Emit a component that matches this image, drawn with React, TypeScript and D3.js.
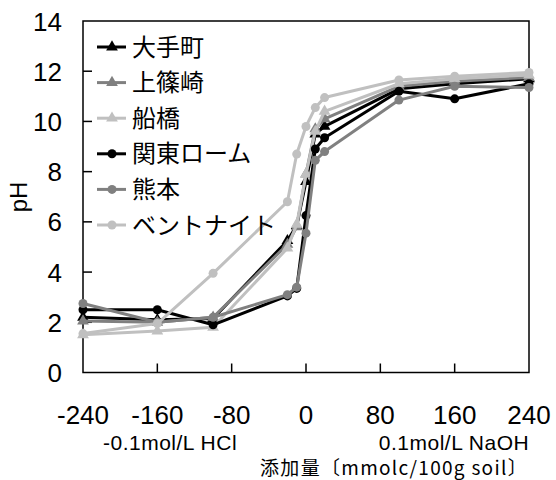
import React, { useEffect, useRef } from 'react';
import * as d3 from 'd3';

const xTicks = [-240, -160, -80, 0, 80, 160, 240];
const yTicks = [0, 2, 4, 6, 8, 10, 12, 14];
const xAdd = [-240, -160, -100, -20, -10, 0, 10, 20, 100, 160, 240];

const names = ['大手町', '上篠崎', '船橋', '関東ローム', '熊本', 'ベントナイト'];
const colors = ['#000000', '#808080', '#c0c0c0', '#000000', '#808080', '#c0c0c0'];
const shapes = ['triangle', 'triangle', 'triangle', 'circle', 'circle', 'circle'];

const otemachi = [2.2, 2.1, 2.15, 5.25, 5.85, 7.6, 9.5, 9.8, 11.3, 11.5, 11.7];
const kamishinozaki = [2.05, 2.0, 2.2, 5.1, 5.8, 7.9, 9.7, 10.1, 11.4, 11.6, 11.75];
const funabashi = [1.5, 1.65, 1.8, 4.95, 5.9, 7.9, 9.6, 10.4, 11.5, 11.7, 11.85];
const kantoLoam = [2.5, 2.5, 1.9, 3.05, 3.35, 6.25, 8.9, 9.35, 11.2, 10.9, 11.5];
const kumamoto = [2.75, 2.0, 2.2, 3.1, 3.4, 5.55, 8.45, 8.8, 10.85, 11.4, 11.35];
const bentonite = [1.55, 1.95, 3.95, 6.8, 8.7, 9.8, 10.55, 10.95, 11.65, 11.8, 11.95];

const seriesValues = [otemachi, kamishinozaki, funabashi, kantoLoam, kumamoto, bentonite];

const latin = 'Liberation Sans, Arial, Helvetica, sans-serif';
const cjk = 'Noto Sans CJK JP, sans-serif';

function TitrationChart() {
  const svgRef = useRef<SVGSVGElement>(null);

  useEffect(() => {
    const svg = d3.select(svgRef.current);
    svg.selectAll('*').remove();

    const margin = { top: 21, right: 27, bottom: 107.5, left: 83 };
    const width = 556;
    const height = 480;

    const x = d3.scaleLinear().domain([-240, 240]).range([margin.left, width - margin.right]);
    const y = d3.scaleLinear().domain([0, 14]).range([height - margin.bottom, margin.top]);

    const triangle = d3.symbol().type(d3.symbolTriangle).size(60);

    // frame
    svg.append('rect')
      .attr('x', x(-240)).attr('y', y(14))
      .attr('width', x(240) - x(-240)).attr('height', y(0) - y(14))
      .attr('fill', 'none').attr('stroke', '#000').attr('stroke-width', 1.5);

    // y ticks (inside)
    yTicks.filter(t => t > 0 && t < 14).forEach(t => {
      svg.append('line')
        .attr('x1', x(-240)).attr('x2', x(-240) + 9)
        .attr('y1', y(t)).attr('y2', y(t))
        .attr('stroke', '#000').attr('stroke-width', 1.5);
    });
    yTicks.forEach(t => {
      svg.append('text')
        .attr('x', 62).attr('y', y(t) + 9.5)
        .attr('text-anchor', 'end')
        .style('font-family', latin).style('font-size', '26px')
        .text(t);
    });

    // x ticks (inside)
    xTicks.filter(t => t > -240 && t < 240).forEach(t => {
      svg.append('line')
        .attr('x1', x(t)).attr('x2', x(t))
        .attr('y1', y(0)).attr('y2', y(0) - 9)
        .attr('stroke', '#000').attr('stroke-width', 1.5);
    });
    xTicks.forEach(t => {
      svg.append('text')
        .attr('x', x(t)).attr('y', 424)
        .attr('text-anchor', 'middle')
        .style('font-family', latin).style('font-size', '26px')
        .text(t);
    });

    // axis titles
    svg.append('text')
      .attr('transform', 'translate(27,197) rotate(-90)')
      .attr('text-anchor', 'middle')
      .style('font-family', latin).style('font-size', '24px')
      .text('pH');

    svg.append('text')
      .attr('x', 170).attr('y', 450)
      .attr('text-anchor', 'middle')
      .style('font-family', latin).style('font-size', '21px')
      .style('letter-spacing', '0.5px')
      .text('-0.1mol/L HCl');

    svg.append('text')
      .attr('x', 454).attr('y', 450)
      .attr('text-anchor', 'middle')
      .style('font-family', latin).style('font-size', '21px')
      .style('letter-spacing', '0.5px')
      .text('0.1mol/L NaOH');

    svg.append('text')
      .attr('x', 394).attr('y', 475)
      .attr('text-anchor', 'middle')
      .style('font-family', cjk).style('font-size', '19px')
      .style('letter-spacing', '1.3px')
      .text('添加量〔mmolc/100g soil〕');

    // series
    const line = d3.line<number>()
      .x((d, i) => x(xAdd[i]))
      .y(d => y(d));

    seriesValues.forEach((vals, s) => {
      const g = svg.append('g');
      g.append('path')
        .datum(vals)
        .attr('d', line)
        .attr('fill', 'none')
        .attr('stroke', colors[s])
        .attr('stroke-width', 3)
        .attr('stroke-linejoin', 'round');

      if (shapes[s] === 'circle') {
        g.selectAll('circle')
          .data(vals)
          .enter().append('circle')
          .attr('cx', (d, i) => x(xAdd[i]))
          .attr('cy', d => y(d))
          .attr('r', 4.5)
          .attr('fill', colors[s]);
      } else {
        g.selectAll('path.mark')
          .data(vals)
          .enter().append('path')
          .attr('class', 'mark')
          .attr('d', triangle)
          .attr('transform', (d, i) => `translate(${x(xAdd[i])},${y(d)})`)
          .attr('fill', colors[s]);
      }
    });

    // legend
    const legend = svg.append('g');
    names.forEach((name, i) => {
      const cy = 47 + i * 35.6;
      legend.append('line')
        .attr('x1', 97).attr('x2', 126)
        .attr('y1', cy).attr('y2', cy)
        .attr('stroke', colors[i]).attr('stroke-width', 3);
      if (shapes[i] === 'circle') {
        legend.append('circle')
          .attr('cx', 112).attr('cy', cy).attr('r', 4.5)
          .attr('fill', colors[i]);
      } else {
        legend.append('path')
          .attr('d', triangle)
          .attr('transform', `translate(112,${cy})`)
          .attr('fill', colors[i]);
      }
      legend.append('text')
        .attr('x', 132).attr('y', cy + 8.5)
        .style('font-family', cjk).style('font-size', '24px')
        .text(name);
    });
  }, []);

  return (
    <div style={{ position: 'absolute', left: 0, top: 0 }}>
      <svg ref={svgRef} width={556} height={480} style={{ display: 'block', background: '#fff' }}></svg>
    </div>
  );
}

export default function App() {
  return <TitrationChart />;
}
